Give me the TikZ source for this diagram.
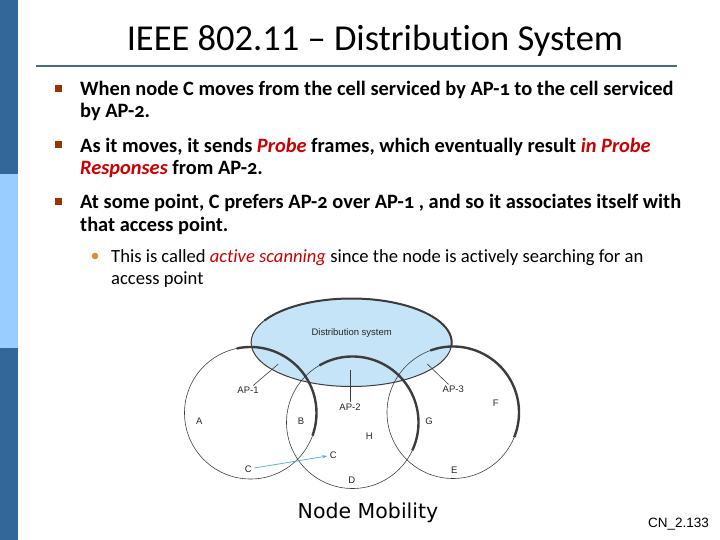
\documentclass[tikz,border=0pt]{standalone}
\usepackage{fontspec}
\setmainfont{Carlito}[Numbers=OldStyle, Ligatures={TeX,NoCommon}]
\newfontfamily\titlefont{Carlito}[Ligatures={TeX,NoCommon}]
\newfontfamily\figfont{Liberation Sans}
\newfontfamily\capfont{DejaVu Sans}
\usetikzlibrary{arrows.meta}

\definecolor{barblue}{HTML}{336699}
\definecolor{barlight}{HTML}{99CCFF}
\definecolor{rulecol}{HTML}{46698C}
\definecolor{bulletbrown}{HTML}{993300}
\definecolor{dotorange}{HTML}{E08C28}
\definecolor{probered}{HTML}{CC0000}
\definecolor{dsfill}{HTML}{C6E4F7}
\definecolor{cellgray}{HTML}{3C3C3C}
\definecolor{movecyan}{HTML}{5AB4CC}

\newcommand{\red}[1]{\textcolor{probered}{\textit{#1}}}

\tikzset{
  line/.style={anchor=base west, inner sep=0pt, font=\fontsize{20.4}{24}\selectfont\bfseries},
  subline/.style={anchor=base west, inner sep=0pt, font=\fontsize{18.6}{22}\selectfont},
  cell/.style={cellgray, line width=0.6pt},
  cellrim/.style={cellgray, line width=2.4pt},
  lbl/.style={inner sep=1pt, text=black!85, font=\figfont\fontsize{9.5}{11}\selectfont},
}

\begin{document}
\begin{tikzpicture}[x=1pt,y=-1pt]
\useasboundingbox (0,0) rectangle (720,540);

% Side bar and title
\fill[barblue] (0,0) rectangle (18,174);
\fill[barlight] (0,174) rectangle (18,348);
\fill[barblue] (0,348) rectangle (18,540);
\node[font=\titlefont\fontsize{36.5}{42}\selectfont] (title) at (375,41) {IEEE 802.11 – Distribution System};
\draw[rulecol, line width=2.5pt] (36,66) -- (677,66);

% Bullets
\fill[bulletbrown] (55,85) rectangle (62,92);
\fill[bulletbrown] (55,141.5) rectangle (62,148.5);
\fill[bulletbrown] (55,198) rectangle (62,205);
\fill[dotorange] (95,256) circle (3.3);

\node[line] (b1a) at (80,96) {When node C moves from the cell serviced by AP-1 to the cell serviced};
\node[line] (b1b) at (80,118) {by AP-2.};
\node[line] (b2a) at (80,152.5) {As it moves, it sends \red{Probe} frames, which eventually result \red{in Probe}};
\node[line] (b2b) at (80,174.5) {\red{Responses} from AP-2.};
\node[line] (b3a) at (80,209) {At some point, C prefers AP-2 over AP-1 , and so it associates itself with};
\node[line] (b3b) at (80,231) {that access point.};
\node[subline] (s1a) at (111,262.5) {This is called \red{active scanning} since the node is actively searching for an};
\node[subline] (s1b) at (111,284) {access point};

% Distribution system
\draw[cellgray, line width=1pt, fill=dsfill] (351.4,342.5) ellipse [x radius=100.3, y radius=44];
\draw[cellgray, line width=2pt] ([shift={(-150:100.3 and 44)}]351.4,342.5) arc[start angle=-150, end angle=5, x radius=100.3, y radius=44];
\node[lbl] (ds) at (351.7,333) {Distribution system};

% Cells
\draw[cell] (250.5,413) circle [radius=66];
\draw[cell] (352.5,422.5) circle [radius=66];
\draw[cell] (453,412.5) circle [radius=66];
\draw[cellrim] ([shift={(-102:66)}]250.5,413) arc[start angle=-102, end angle=20, radius=66];
\draw[cellrim] ([shift={(-120:66)}]352.5,422.5) arc[start angle=-120, end angle=25, radius=66];
\draw[cellrim] ([shift={(-110:66)}]453,412.5) arc[start angle=-110, end angle=22, radius=66];

% Access points
\coordinate (ap1tip) at (278.3,364);
\coordinate (ap2tip) at (350,370);
\coordinate (ap3tip) at (427.3,364);
\node[lbl] (ap1) at (248,390) {AP-1};
\node[lbl] (ap2) at (350,407) {AP-2};
\node[lbl] (ap3) at (453.3,389) {AP-3};
\draw[cell] (ap1) -- (ap1tip);
\draw[cell] (ap2) -- (ap2tip);
\draw[cell] (ap3) -- (ap3tip);

% Stations
\node[lbl] (A) at (199.3,421) {A};
\node[lbl] (B) at (301,421) {B};
\node[lbl] (G) at (429,421) {G};
\node[lbl] (F) at (495.7,403.3) {F};
\node[lbl] (H) at (369.3,436.7) {H};
\node[lbl, inner sep=2.5pt] (C1) at (248.3,469) {C};
\node[lbl, inner sep=2.5pt] (C2) at (333.3,455) {C};
\node[lbl] (D) at (351.7,480) {D};
\node[lbl] (E) at (454.3,470) {E};
\draw[movecyan, line width=0.8pt, -{Stealth[length=5pt, width=3.5pt]}] (C1) -- (C2);

% Caption
\node[font=\capfont\fontsize{20.5}{24}\selectfont] (cap) at (368,513) {Node Mobility};
\node[font=\figfont\fontsize{13.5}{16}\selectfont] (slide) at (678.5,524) {CN\_2.133};

\end{tikzpicture}
\end{document}
